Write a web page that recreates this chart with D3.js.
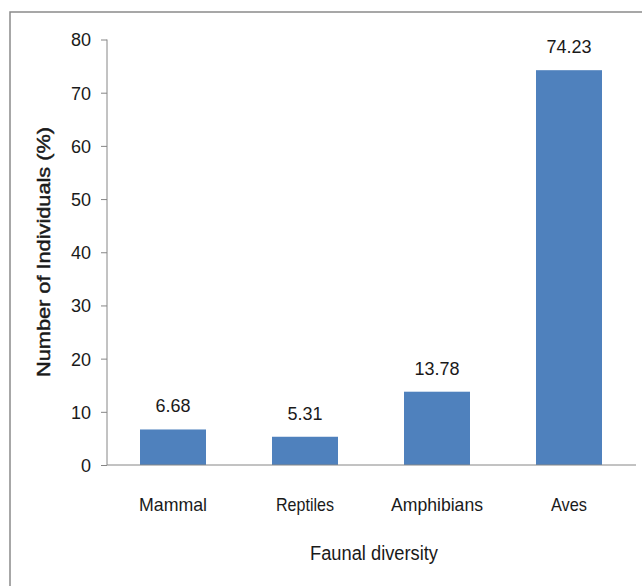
<!DOCTYPE html>
<html><head><meta charset="utf-8">
<script src="https://cdn.jsdelivr.net/npm/d3@7"></script>
<style>body{margin:0;background:#fff}svg{display:block}text{font-family:"Liberation Sans",Arial,sans-serif;fill:#1a1a1a}</style>
</head><body>
<script>
const categories = ["Mammal","Reptiles","Amphibians","Aves"];
const values = [6.68,5.31,13.78,74.23];
const valueLabels = ["6.68","5.31","13.78","74.23"];
const yTicks = [0,10,20,30,40,50,60,70,80];
const xTitle = "Faunal diversity";
const yTitle = "Number of Individuals (%)";

const W=642,H=586;
const svg=d3.select("body").append("svg").attr("width",W).attr("height",H);
svg.append("rect").attr("x",10).attr("y",12).attr("width",W).attr("height",H).attr("fill","none").attr("stroke","#8a8a8a").attr("stroke-width",1.5);

const x=d3.scaleBand().domain(categories).range([107,635]).paddingInner(0.5).paddingOuter(0.25);
const y=d3.scaleLinear().domain([0,80]).range([465,39.5]);

svg.selectAll("rect.bar").data(values).join("rect").attr("class","bar")
 .attr("x",(d,i)=>x(categories[i])).attr("width",x.bandwidth())
 .attr("y",d=>y(d)).attr("height",d=>y(0)-y(d)).attr("fill","#4F81BD");

const ya=svg.append("g").attr("transform","translate(107,0)").call(d3.axisLeft(y).tickValues(yTicks).tickSize(6).tickPadding(10).tickFormat(d3.format("d")));
ya.select(".domain").attr("stroke","#868686").attr("d","M0,39.5V465");
ya.selectAll(".tick line").attr("stroke","#868686");
ya.selectAll(".tick text").attr("font-size",18).attr("font-family","Liberation Sans, Arial").attr("fill","#1a1a1a").attr("dy","0.36em");

const xa=svg.append("g").attr("transform","translate(0,465)").call(d3.axisBottom(x).tickSize(0).tickPadding(33));
xa.select(".domain").attr("stroke","#868686").attr("d","M107,0H636");
xa.selectAll(".tick text").attr("font-size",19).attr("font-family","Liberation Sans, Arial").attr("fill","#1a1a1a")
 .attr("textLength",(d,i)=>[68,58,92,36][i]).attr("lengthAdjust","spacingAndGlyphs");

svg.selectAll("text.val").data(values).join("text").attr("class","val")
 .attr("x",(d,i)=>x(categories[i])+x.bandwidth()/2).attr("y",d=>y(d)-17)
 .attr("text-anchor","middle").attr("font-size",18).text((d,i)=>valueLabels[i]);

svg.append("text").attr("x",374).attr("y",560).attr("text-anchor","middle").attr("font-size",20)
 .attr("textLength",128).attr("lengthAdjust","spacingAndGlyphs").text(xTitle);

svg.append("text").attr("transform","translate(50,252) rotate(-90)").attr("text-anchor","middle").attr("font-size",18)
 .attr("textLength",250).attr("lengthAdjust","spacingAndGlyphs").attr("stroke","#1a1a1a").attr("stroke-width",0.45).text(yTitle);
</script>
</body></html>
